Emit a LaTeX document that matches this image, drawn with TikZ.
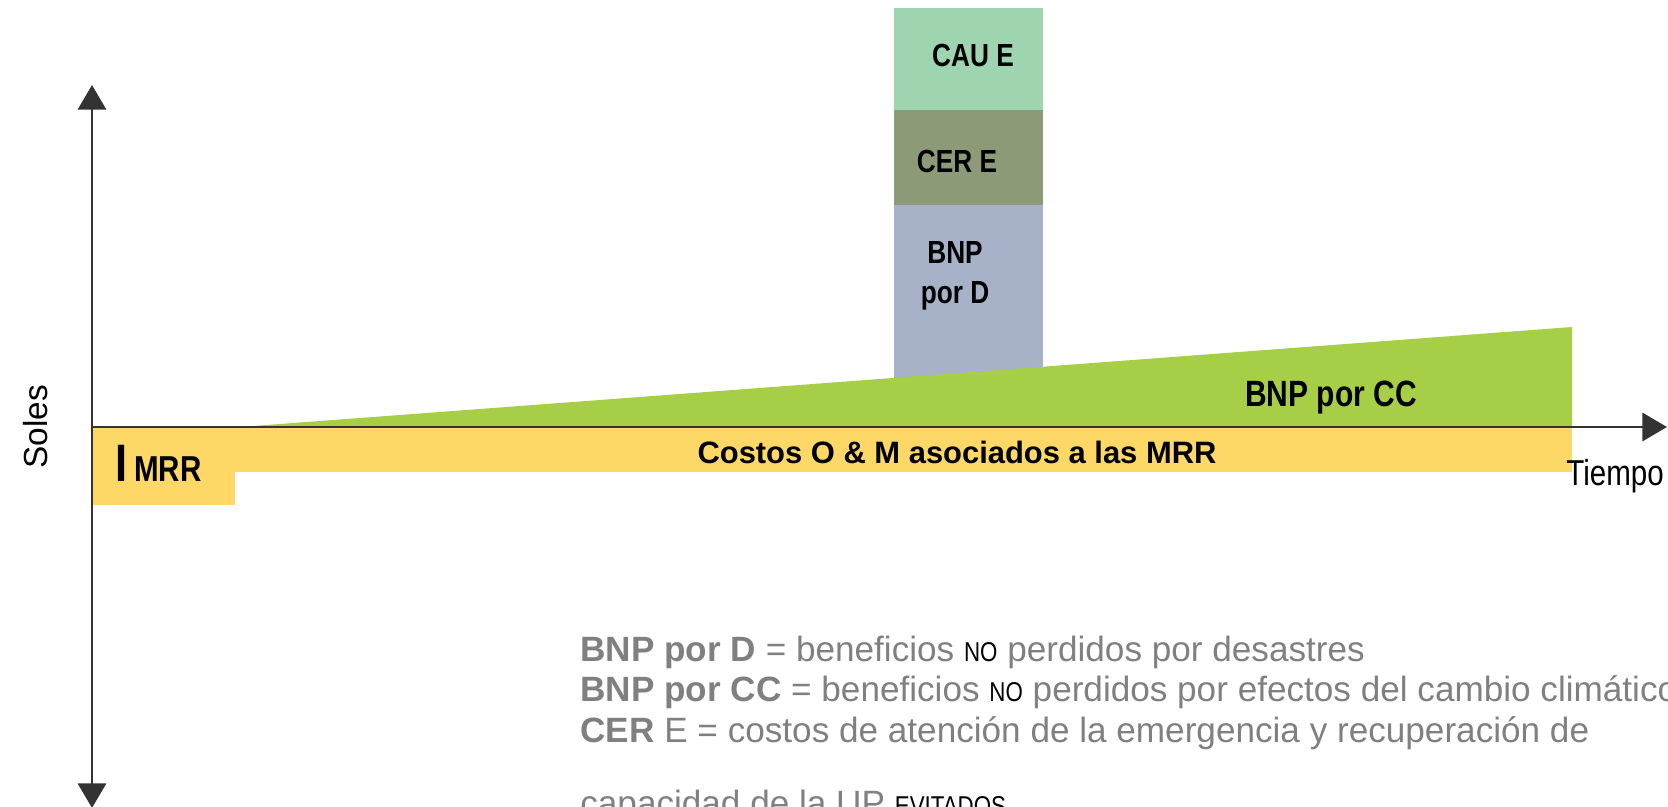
\documentclass[tikz,border=0pt]{standalone}
\usepackage{fontspec}
\setmainfont{Liberation Sans}
\newfontfamily\narrowfont[FakeStretch=0.82]{Liberation Sans}
\usetikzlibrary{arrows.meta}

\definecolor{caugreen}{HTML}{9ED4B0}
\definecolor{cerolive}{HTML}{8C9A78}
\definecolor{bnpblue}{HTML}{A7B2C8}
\definecolor{ccgreen}{HTML}{A6CE46}
\definecolor{omyellow}{HTML}{FDD866}
\definecolor{axisgray}{HTML}{333333}
\definecolor{legendgray}{HTML}{808080}

\newcommand{\resalta}[1]{{\color{black}\narrowfont\fontsize{15.5}{15.5}\selectfont #1}}

\tikzset{
  axis/.style={draw=axisgray, line width=1.6pt},
  axtip/.tip={Triangle[length=14pt, width=16pt]},
  barlabel/.style={font=\narrowfont\bfseries\fontsize{18.2}{22.5}\selectfont, align=center, anchor=base},
  leyenda/.style={anchor=base west, inner sep=0pt, text=legendgray, font=\fontsize{20}{21}\selectfont},
}

\begin{document}
\begin{tikzpicture}[x=0.02cm, y=-0.02cm]
	\useasboundingbox (0,0) rectangle (1668,807);
	% barras del evento
	\fill[caugreen] (894,8) rectangle (1043,110);
	\fill[cerolive] (894,110) rectangle (1043,205);
	\fill[bnpblue] (894,205) rectangle (1043,378);
	% BNP por CC y costos
	\fill[ccgreen] (240,427) -- (1572,327) -- (1572,427) -- cycle;
	\fill[omyellow] (92,427) rectangle (235,505);
	\fill[omyellow] (235,427) rectangle (1572,472);
	% ejes
	\coordinate (origen) at (92,427);
	\coordinate (ytop) at (92,85);
	\coordinate (ybot) at (92,808);
	\coordinate (xend) at (1667,427);
	\draw[axis, axtip-axtip] (ybot) -- (ytop);
	\draw[axis, -axtip] (origen) -- (xend);
	\node[rotate=90, font=\fontsize{19}{21}\selectfont] (soles) at (36,427) {Soles};
	\node[anchor=base west, inner sep=0pt, font=\narrowfont\fontsize{20.5}{22}\selectfont] (tiempo) at (1566,486) {Tiempo};
	% etiquetas
	\node[barlabel] (cau) at (973,67) {CAU E};
	\node[barlabel] (cer) at (957,173) {CER E};
	\node[barlabel, anchor=center] (bnpd) at (955,276) {BNP\\por D};
	\node[anchor=base, font=\narrowfont\bfseries\fontsize{20.8}{22}\selectfont] (bnpcc) at (1331,407) {BNP por CC};
	\node[anchor=base, font=\bfseries\fontsize{17.6}{20}\selectfont] (costos) at (957,464) {Costos O \& M asociados a las MRR};
	\node[anchor=base west, inner sep=0pt, font=\narrowfont\bfseries] (imrr) at (115,482) {{\fontsize{30}{30}\selectfont I}\hspace{4pt}{\fontsize{20.5}{22}\selectfont MRR}};
	% leyenda
	\node[leyenda] (ley1) at (580,662) {\textbf{BNP por D} = beneficios \resalta{NO} perdidos por desastres};
	\node[leyenda] (ley2) at (580,702) {\textbf{BNP por CC} = beneficios \resalta{NO} perdidos por efectos del cambio climático};
	\node[leyenda] (ley3) at (580,742) {\textbf{CER} E = costos de atención de la emergencia y recuperación de};
	\node[leyenda] (ley4) at (580,815) {capacidad de la UP \resalta{EVITADOS}};
\end{tikzpicture}
\end{document}
